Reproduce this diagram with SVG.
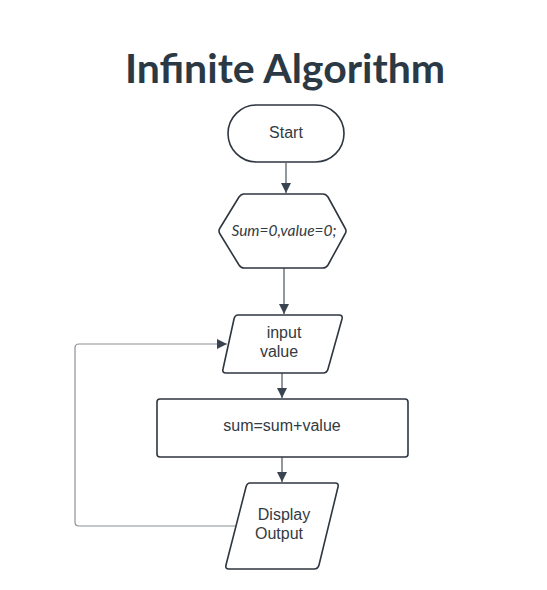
<svg xmlns="http://www.w3.org/2000/svg" width="547" height="590" viewBox="0 0 547 590">
<defs>
<marker id="ah" viewBox="0 0 10 10" refX="10" refY="5" markerWidth="10" markerHeight="10" markerUnits="userSpaceOnUse" orient="auto">
<path d="M0,0 L10,5 L0,10 z" fill="#3a4450"/>
</marker>
</defs>
<style>
.shape{fill:#ffffff;stroke:#2f3640;stroke-width:1.6;stroke-linejoin:round}
.lbl{font-family:"Liberation Sans",Arial,sans-serif;font-size:16px;fill:#333a42;text-anchor:middle}
.conn{fill:none;stroke:#4a525c;stroke-width:1.2}
.fb{fill:none;stroke:#8c9198;stroke-width:1.2}
</style>
<rect width="547" height="590" fill="#ffffff"/>
<text id="title" x="285" y="83" font-family="Lato,'Noto Sans',sans-serif" font-weight="bold" font-size="41" fill="#2b3945" text-anchor="middle">Infinite Algorithm</text>
<g id="connectors">
<path class="conn" d="M286,163 V193" marker-end="url(#ah)"/>
<path class="conn" d="M284,268 V314" marker-end="url(#ah)"/>
<path class="conn" d="M282,373 V398" marker-end="url(#ah)"/>
<path class="conn" d="M282,457 V482" marker-end="url(#ah)"/>
<path class="fb" d="M236,526 H79 Q75,526 75,522 V348 Q75,344 79,344 H227" marker-end="url(#ah)"/>
</g>
<g id="start">
<rect class="shape" x="228" y="105" width="116" height="57" rx="28.5"/>
<text class="lbl" x="286" y="138">Start</text>
</g>
<g id="init">
<path class="shape" d="M244,194 H323 Q326,194 328,197 L345,228 Q347,231 345,234 L328,265 Q326,268 323,268 H244 Q241,268 239,265 L220,234 Q218,231 220,228 L239,197 Q241,194 244,194 Z"/>
<text x="284" y="236" font-family="Lato,'Noto Sans',sans-serif" font-style="italic" font-size="15.5" fill="#333a42" text-anchor="middle">Sum=0,value=0;</text>
</g>
<g id="input">
<path class="shape" d="M238,315 H339 Q343,315 342,319 L328,369 Q327,373 323,373 H226 Q222,373 223,369 L234,319 Q235,315 238,315 Z"/>
<text class="lbl" x="284" y="338">input</text>
<text class="lbl" x="279" y="357">value</text>
</g>
<g id="process">
<rect class="shape" x="157" y="399" width="251" height="58" rx="3"/>
<text class="lbl" x="282" y="431">sum=sum+value</text>
</g>
<g id="display">
<path class="shape" d="M250,483 H335 Q339,483 338,487 L319,565 Q318,569 314,569 H229 Q225,569 226,565 L246,487 Q247,483 250,483 Z"/>
<text class="lbl" x="284" y="520">Display</text>
<text class="lbl" x="279" y="539">Output</text>
</g>
</svg>
